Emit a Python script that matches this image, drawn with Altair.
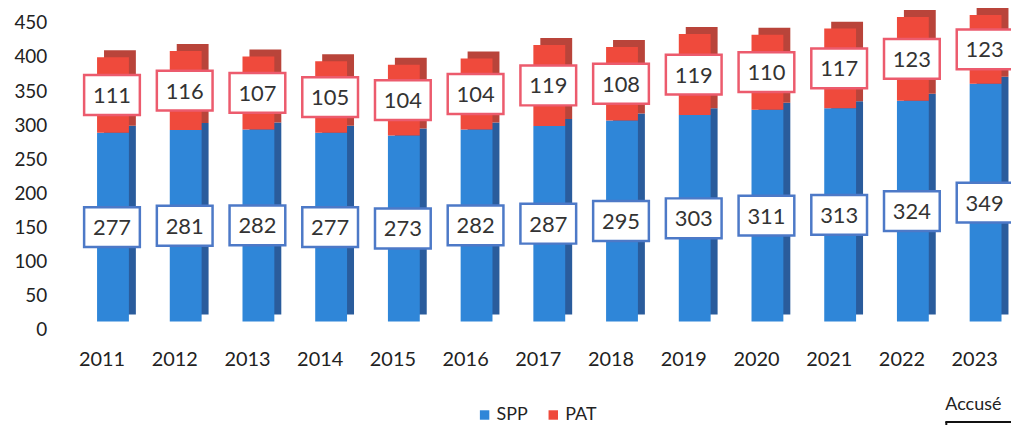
import altair as alt
import pandas as pd

years = ["2011", "2012", "2013", "2014", "2015", "2016", "2017",
         "2018", "2019", "2020", "2021", "2022", "2023"]
spp = [277, 281, 282, 277, 273, 282, 287, 295, 303, 311, 313, 324, 349]
pat = [111, 116, 107, 105, 104, 104, 119, 108, 119, 110, 117, 123, 123]
series_names = ["SPP", "PAT"]
y_ticks = [0, 50, 100, 150, 200, 250, 300, 350, 400, 450]
YMAX = 450

rows = []
for i, yr in enumerate(years):
    base = 0
    for name, vals in (("SPP", spp), ("PAT", pat)):
        v = vals[i]
        lo = min(base, YMAX)
        hi = min(base + v, YMAX)
        rows.append({"year": yr, "series": name, "value": v,
                     "y0": lo, "y1": hi, "mid": (lo + hi) / 2})
        base += v
df = pd.DataFrame(rows)

FONT = "Lato"
x_enc = alt.X("year:N", sort=years,
              scale=alt.Scale(paddingInner=0, paddingOuter=0),
              axis=alt.Axis(title=None, domain=False, ticks=False, labelAngle=0,
                            labelFontSize=20, labelColor="#222", labelPadding=20,
                            labelFont=FONT))
y_scale = alt.Scale(domain=[0, YMAX], nice=False)
y_axis = alt.Axis(title=None, values=y_ticks, grid=False, domain=False, ticks=False,
                  labelFontSize=19, labelColor="#222", labelPadding=19, labelFont=FONT)

base = alt.Chart(df)

back = base.mark_bar(size=32, xOffset=18, yOffset=-15, y2Offset=-15).encode(
    x=x_enc,
    y=alt.Y("y1:Q", scale=y_scale, axis=y_axis),
    y2="y0:Q",
    color=alt.Color("series:N", scale=alt.Scale(domain=series_names,
                                                 range=["#2A5C9C", "#B9443A"]),
                    legend=None),
)

front = base.mark_bar(size=32, xOffset=11, yOffset=-8, y2Offset=-8).encode(
    x=x_enc,
    y=alt.Y("y1:Q", scale=y_scale, axis=y_axis),
    y2="y0:Q",
    color=alt.Color("series:N", scale=alt.Scale(domain=series_names,
                                                 range=["#2F86D8", "#EF4A3C"]),
                    sort=series_names,
                    legend=alt.Legend(title=None, orient="none", direction="horizontal",
                                      legendX=412, legendY=385, symbolType="square",
                                      symbolSize=90, labelFontSize=18, labelFont=FONT,
                                      labelColor="#222", columnPadding=16,
                                      symbolStrokeWidth=0, labelOffset=3)),
)

box_shape = "M-1.4,-1L1.4,-1L1.4,1L-1.4,1Z"
boxes = base.mark_point(shape=box_shape, size=1600, filled=False, fill="white",
                        fillOpacity=1, strokeWidth=2.5, opacity=1,
                        xOffset=10, yOffset=-8).encode(
    x=x_enc,
    y=alt.Y("mid:Q", scale=y_scale, axis=y_axis),
    stroke=alt.Stroke("series:N", scale=alt.Scale(domain=series_names,
                                                   range=["#4D79C7", "#EC5B6D"]),
                      legend=None),
)

labels = base.mark_text(fontSize=22, font=FONT, color="#333",
                        xOffset=10, yOffset=-7).encode(
    x=x_enc,
    y=alt.Y("mid:Q", scale=y_scale, axis=y_axis),
    text="value:Q",
)

accuse = alt.Chart(pd.DataFrame({"t": ["Accusé"]})).mark_text(
    fontSize=18, font=FONT, color="#222", align="left", baseline="middle"
).encode(x=alt.value(884), y=alt.value(384), text="t:N")

accuse_line = alt.Chart(pd.DataFrame({"t": [0]})).mark_rule(
    color="#111", strokeWidth=2
).encode(x=alt.value(884), x2=alt.value(950), y=alt.value(401))

accuse_tick = alt.Chart(pd.DataFrame({"t": [0]})).mark_rule(
    color="#111", strokeWidth=2
).encode(x=alt.value(885), y=alt.value(401), y2=alt.value(410))

chart = alt.layer(back, front, boxes, labels, accuse, accuse_line, accuse_tick).resolve_scale(
    color="independent"
).properties(
    width=950, height=308,
    background="white",
    autosize=alt.AutoSizeParams(type="none"),
    padding={"left": 66, "top": 22, "right": 0, "bottom": 95},
).configure_view(stroke=None)

chart.save("out.html", embed_options={"renderer": "svg", "actions": False})
